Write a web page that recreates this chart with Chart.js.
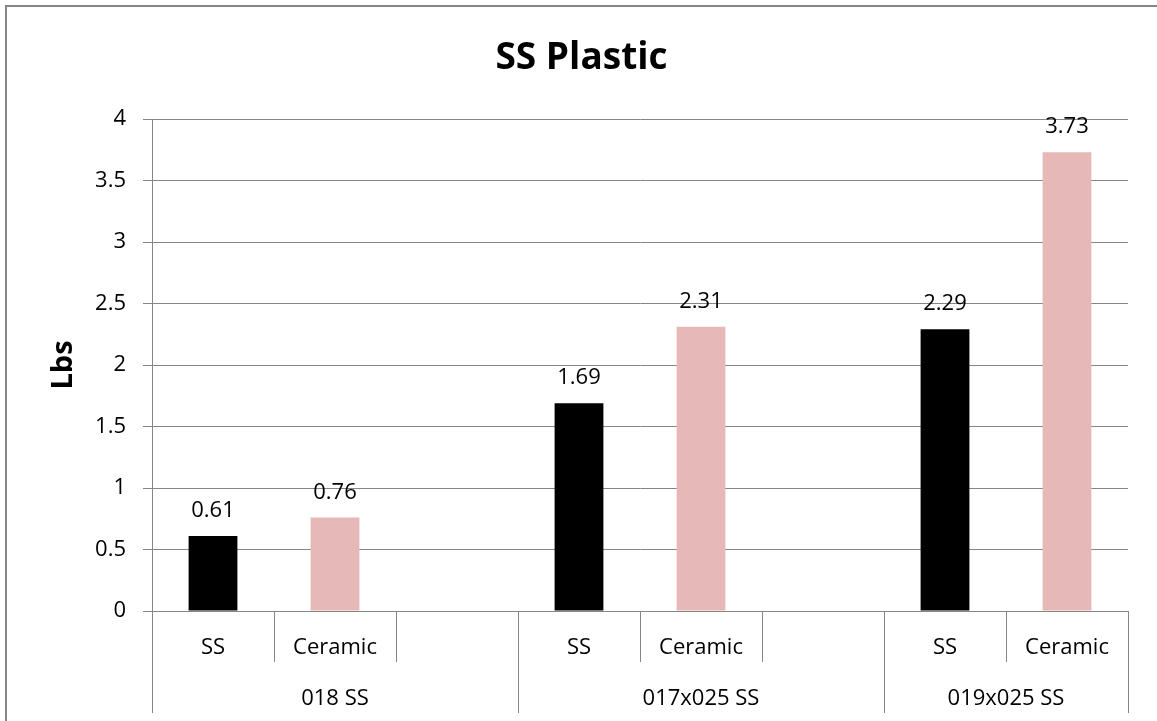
<!DOCTYPE html>
<html>
<head>
<meta charset="utf-8">
<title>SS Plastic</title>
<script src="https://cdn.jsdelivr.net/npm/chart.js@4.4.1/dist/chart.umd.min.js"></script>
<style>
  html, body { margin: 0; padding: 0; background: #fff; }
  #wrap { width: 1157px; height: 721px; }
</style>
</head>
<body>
<div id="wrap"><canvas id="chart" width="1157" height="721"></canvas></div>
<script>
// Two-level category axis: wire type under each archwire group
const subLabels = ['SS', 'Ceramic', '', 'SS', 'Ceramic', '', 'SS', 'Ceramic'];
const groupLabels = ['018 SS', '017x025 SS', '019x025 SS'];
const groupSizes = [3, 3, 2];
// force in lbs (null = empty spacer slot)
const lbsValues = [0.61, 0.76, null, 1.69, 2.31, null, 2.29, 3.73];
const yTicks = [0, 0.5, 1, 1.5, 2, 2.5, 3, 3.5, 4];

const GRID = '#868686';
const FONT = '"Open Sans", Lato, sans-serif';
const barColors = subLabels.map(l => l === 'Ceramic' ? '#e6b9b8' : '#000000');

// Frame, value labels and the outer group row of the x axis
const extras = {
  id: 'extras',
  beforeDraw(chart) {
    const ctx = chart.ctx;
    ctx.save();
    ctx.fillStyle = '#fff';
    ctx.fillRect(0, 0, chart.width, chart.height);
    ctx.fillStyle = GRID;
    ctx.fillRect(5, 5, chart.width, 2);
    ctx.fillRect(5, 5, 2, chart.height);
    ctx.restore();
  },
  afterDatasetsDraw(chart) {
    const ctx = chart.ctx;
    const meta = chart.getDatasetMeta(0);
    ctx.save();
    ctx.font = '22px ' + FONT;
    ctx.fillStyle = '#000';
    ctx.textAlign = 'center';
    ctx.textBaseline = 'alphabetic';
    meta.data.forEach((bar, i) => {
      const v = lbsValues[i];
      if (v === null) return;
      ctx.fillText(v.toFixed(2), bar.x, bar.y - 19);
    });

    const x = chart.scales.x;
    const half = (x.getPixelForValue(1) - x.getPixelForValue(0)) / 2;
    const top = Math.round(x.top);
    const bottom = chart.height - 8;
    ctx.strokeStyle = GRID;
    ctx.lineWidth = 1;
    ctx.textBaseline = 'middle';
    let start = 0;
    groupLabels.forEach((g, gi) => {
      const end = start + groupSizes[gi] - 1;
      const l = x.getPixelForValue(start) - half;
      const r = x.getPixelForValue(end) + half;
      [l, r].forEach(px => {
        const p = Math.round(px) + 0.5;
        ctx.beginPath();
        ctx.moveTo(p, top);
        ctx.lineTo(p, bottom);
        ctx.stroke();
      });
      ctx.fillText(g, (l + r) / 2, 699);
      start = end + 1;
    });
    ctx.restore();
  }
};

new Chart(document.getElementById('chart'), {
  type: 'bar',
  data: {
    labels: subLabels,
    datasets: [{
      data: lbsValues,
      backgroundColor: barColors,
      borderWidth: 0,
      barPercentage: 0.4,
      categoryPercentage: 1
    }]
  },
  options: {
    responsive: false,
    animation: false,
    layout: { padding: { left: 6, right: 0, top: 0, bottom: 0 } },
    plugins: {
      legend: { display: false },
      tooltip: { enabled: false },
      title: {
        display: true,
        text: 'SS Plastic',
        color: '#000',
        font: { family: FONT, size: 37, weight: 'bold', lineHeight: 1.2 },
        padding: { top: 36, bottom: 38.6 }
      }
    },
    scales: {
      x: {
        grid: { color: GRID, drawOnChartArea: false, tickLength: 51, offset: true },
        border: { color: GRID },
        ticks: {
          color: '#000',
          font: { family: FONT, size: 22 },
          padding: -27,
          maxRotation: 0,
          autoSkip: false
        },
        afterFit: s => { s.height = 110; }
      },
      y: {
        min: 0,
        max: 4,
        afterBuildTicks: s => { s.ticks = yTicks.map(v => ({ value: v })); },
        grid: { color: GRID, tickLength: 9 },
        border: { color: GRID },
        ticks: {
          color: '#000',
          font: { family: FONT, size: 22 },
          padding: 17,
          callback: v => String(v)
        },
        title: {
          display: true,
          text: 'Lbs',
          color: '#000',
          font: { family: FONT, size: 29, weight: 'bold' },
          padding: { top: 40, bottom: 0 }
        },
        afterFit: s => { s.width = 146; }
      },
      // blank spacer on the right so the plot ends short of the frame
      spacer: {
        type: 'linear',
        position: 'right',
        grid: { display: false },
        border: { display: false },
        ticks: { display: false },
        afterFit: s => { s.width = 29; }
      }
    }
  },
  plugins: [extras]
});
</script>
</body>
</html>
